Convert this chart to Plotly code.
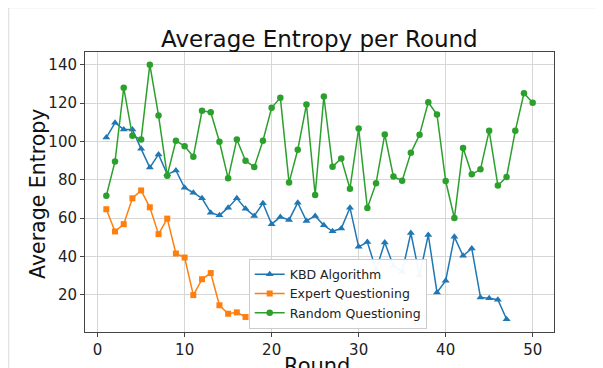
import plotly.graph_objects as go

rounds_kbd = list(range(1, 48))
kbd = [102, 109.7, 106.2, 106.2, 96.1, 86.3, 93.2, 82.8, 84.8, 75.8,
       73.2, 70.3, 62.8, 61.4, 65.4, 70.3, 64.9, 61.1, 67.7, 56.8,
       60.6, 59, 68, 58.5, 61.1, 56.2, 53.1, 54.5, 65.4, 45,
       47.5, 33, 47.2, 35, 32, 52.2, 30, 51.2, 21.2, 27.3,
       50.2, 40.3, 44.1, 18.6, 18.2, 17.4, 7.2]

rounds_expert = list(range(1, 18))
expert = [64.6, 53, 56.8, 70.3, 74.4, 65.6, 51.6, 59.7, 41.5, 39.4,
          19.8, 28.1, 31.3, 14.5, 10.1, 10.8, 8.4]

rounds_random = list(range(1, 51))
random_q = [71.6, 89.5, 127.9, 102.9, 101, 140, 113.5, 82.1, 100.3, 97.5,
            92, 115.9, 115.2, 99.8, 80.7, 101, 89.9, 86.6, 100.3, 117.5,
            122.8, 78.5, 95.6, 119.2, 72, 123.4, 86.8, 91.1, 75.3, 106.7,
            65.2, 78.2, 103.6, 81.6, 79.5, 94, 103.4, 120.4, 114, 79.3,
            60, 96.5, 82.8, 85.4, 105.5, 77, 81.4, 105.5, 125.1, 120.1]

x_ticks = [0, 10, 20, 30, 40, 50]
y_ticks = [20, 40, 60, 80, 100, 120, 140]

FONT = "DejaVu Sans"
# the page body has an 8px margin, so the figure starts at (8, 8) on screen
OX, OY = 8, 8
SW, SH = 603, 368
W, H = SW - OX, SH - OY
# plot area in screen pixels
L, R, T, B = 85.3, 554.3, 52.3, 332.3
PW, PH = R - L, B - T

def px(x):
    return (x - L) / PW

def py(y):
    return (B - y) / PH

fig = go.Figure()
fig.add_trace(go.Scatter(x=rounds_kbd, y=kbd, mode="lines+markers", name="KBD Algorithm",
                         line=dict(color="#1f77b4", width=1.5),
                         marker=dict(symbol="triangle-up", size=7, color="#1f77b4")))
fig.add_trace(go.Scatter(x=rounds_expert, y=expert, mode="lines+markers", name="Expert Questioning",
                         line=dict(color="#ff7f0e", width=1.5),
                         marker=dict(symbol="square", size=6, color="#ff7f0e")))
fig.add_trace(go.Scatter(x=rounds_random, y=random_q, mode="lines+markers", name="Random Questioning",
                         line=dict(color="#2ca02c", width=1.5),
                         marker=dict(symbol="circle", size=6.5, color="#2ca02c")))

axis_common = dict(showgrid=True, gridcolor="#d6d6d6", gridwidth=1,
                   showline=True, linecolor="#444", linewidth=1, mirror=True,
                   ticks="outside", ticklen=4, tickcolor="#444", tickwidth=1,
                   zeroline=False, tickfont=dict(family=FONT, size=15, color="#222"))

fig.update_layout(
    width=W, height=H,
    margin=dict(l=L - OX, r=SW - R, t=T - OY, b=SH - B, autoexpand=False),
    paper_bgcolor="white", plot_bgcolor="white",
    font=dict(family=FONT, color="#222"),
    showlegend=True,
    legend=dict(x=px(249), y=py(329), xanchor="left", yanchor="bottom",
                bgcolor="rgba(255,255,255,0.95)", bordercolor="#cccccc", borderwidth=1,
                font=dict(family=FONT, size=12.5, color="#222"), itemwidth=30),
    xaxis=dict(range=[-1.45, 52.45], tickvals=x_ticks, **axis_common),
    yaxis=dict(range=[0.56, 146.6], tickvals=y_ticks, **axis_common),
)

fig.add_annotation(text="Average Entropy per Round", xref="paper", yref="paper",
                   x=px(320), y=py(39.5), xanchor="center", yanchor="middle",
                   showarrow=False, font=dict(family=FONT, size=23, color="#111"))
fig.add_annotation(text="Round", xref="paper", yref="paper",
                   x=px(317), y=py(366), xanchor="center", yanchor="middle",
                   showarrow=False, font=dict(family=FONT, size=21, color="#111"))
fig.add_annotation(text="Average Entropy", xref="paper", yref="paper",
                   x=px(38), y=py(194.5), xanchor="center", yanchor="middle",
                   textangle=-90, showarrow=False, font=dict(family=FONT, size=20.5, color="#111"))

# outer output-cell frame lines
fig.add_shape(type="line", xref="paper", yref="paper", x0=px(9), x1=px(9), y0=py(8), y1=py(368),
              line=dict(color="#e0e0e0", width=1.2), layer="below")
fig.add_shape(type="line", xref="paper", yref="paper", x0=px(9), x1=px(603), y0=py(8), y1=py(8),
              line=dict(color="#e0e0e0", width=1.2), layer="below")

fig.write_html("out.html")
